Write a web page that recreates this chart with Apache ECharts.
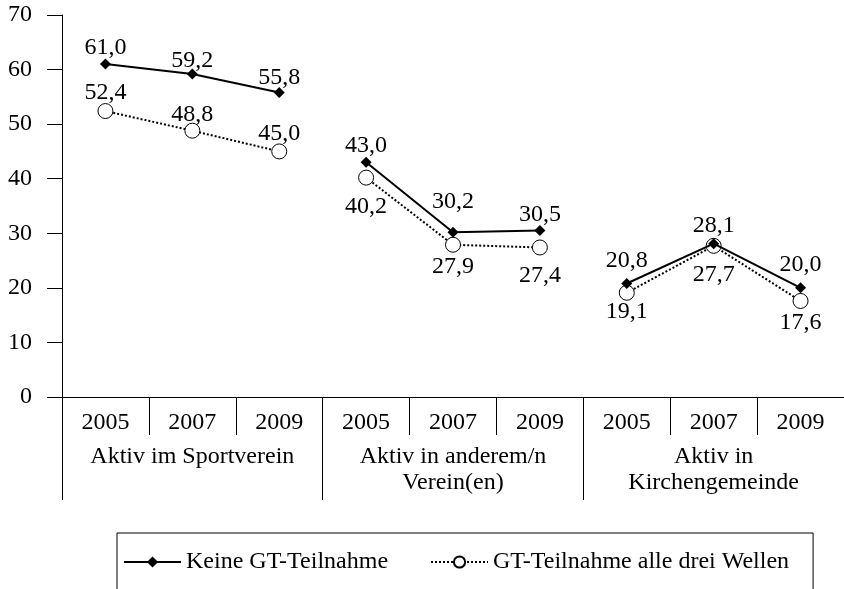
<!DOCTYPE html>
<html>
<head>
<meta charset="utf-8">
<script src="https://cdn.jsdelivr.net/npm/echarts@6/dist/echarts.min.js"></script>
<style>
    html, body {margin: 0; padding: 0; background: #fff;}
    #main {width: 844px; height: 589px;}
</style>
</head>
<body>
<div id="main"></div>
<script>
// Daten
var years = ['2005', '2007', '2009'];
var groups = ['Aktiv im Sportverein', 'Aktiv in anderem/n\nVerein(en)', 'Aktiv in\nKirchengemeinde'];
var keineGT = [61.0, 59.2, 55.8, 43.0, 30.2, 30.5, 20.8, 28.1, 20.0];
var gtAlle = [52.4, 48.8, 45.0, 40.2, 27.9, 27.4, 19.1, 27.7, 17.6];
var yTicks = [0, 10, 20, 30, 40, 50, 60, 70];

// label shift per point (px, vertical), not data
var keineShift = [-16, -13, -15, -17, -30, -16, -23, -18, -23];
var gtShift = [-18, -16, -18, 29, 22, 28, 19, 29, 22];

var FONT = 'Liberation Serif';
var categories = [];
groups.forEach(function () {
    years.forEach(function (y) { categories.push(y); });
});

function fmt(p) {
    return p.value.toFixed(1).replace('.', ',');
}

// one series per group, so the lines break between groups
function buildSeries(name, values, shift, style) {
    var out = [];
    groups.forEach(function (g, gi) {
        var data = values.map(function (v, i) {
            if (Math.floor(i / years.length) !== gi) {
                return '-';
            }
            return {value: v, label: {offset: [0, shift[i]]}};
        });
        out.push(Object.assign({
            name: name,
            type: 'line',
            data: data,
            label: {
                show: true,
                position: 'inside',
                formatter: fmt,
                fontFamily: FONT,
                fontSize: 24,
                color: '#000'
            },
            emphasis: {disabled: true},
            animation: false
        }, style));
    });
    return out;
}

var series = [].concat(
    buildSeries('GT-Teilnahme alle drei Wellen', gtAlle, gtShift, {
        symbol: 'circle',
        symbolSize: 15,
        z: 2,
        itemStyle: {color: '#fff', borderColor: '#000', borderWidth: 1},
        lineStyle: {color: '#000', width: 2, type: 'dotted'}
    }),
    buildSeries('Keine GT-Teilnahme', keineGT, keineShift, {
        symbol: 'diamond',
        symbolSize: 11,
        z: 3,
        itemStyle: {color: '#000'},
        lineStyle: {color: '#000', width: 2}
    })
);

var chart = echarts.init(document.getElementById('main'));
chart.setOption({
    backgroundColor: '#fff',
    animation: false,
    grid: {left: 62, top: 15, width: 787, height: 382},
    legend: {
        data: ['Keine GT-Teilnahme', 'GT-Teilnahme alle drei Wellen'],
        left: 117,
        top: 533,
        padding: [17, 24, 40, 6],
        borderColor: '#000',
        borderWidth: 1,
        itemWidth: 57,
        itemHeight: 14,
        itemGap: 42,
        textStyle: {fontFamily: FONT, fontSize: 24, color: '#000'}
    },
    xAxis: [{
        type: 'category',
        data: categories,
        boundaryGap: true,
        axisLine: {lineStyle: {color: '#000', width: 1}},
        axisTick: {show: true, interval: 0, length: 38, lineStyle: {color: '#000'}},
        axisLabel: {
            interval: 0, margin: 14, lineHeight: 24,
            fontFamily: FONT, fontSize: 24, color: '#000'
        }
    }, {
        type: 'category',
        data: groups,
        position: 'bottom',
        offset: 38,
        boundaryGap: true,
        axisLine: {show: false},
        axisTick: {show: true, interval: 0, length: 65, lineStyle: {color: '#000'}},
        axisLabel: {
            interval: 0, margin: 9, lineHeight: 26,
            fontFamily: FONT, fontSize: 24, color: '#000'
        }
    }],
    yAxis: {
        type: 'value',
        min: yTicks[0],
        max: yTicks[yTicks.length - 1],
        interval: 10,
        axisLine: {show: true, lineStyle: {color: '#000'}},
        axisTick: {show: true, length: 15, lineStyle: {color: '#000'}},
        splitLine: {show: false},
        axisLabel: {margin: 30, fontFamily: FONT, fontSize: 24, color: '#000'}
    },
    series: series
});
</script>
</body>
</html>
